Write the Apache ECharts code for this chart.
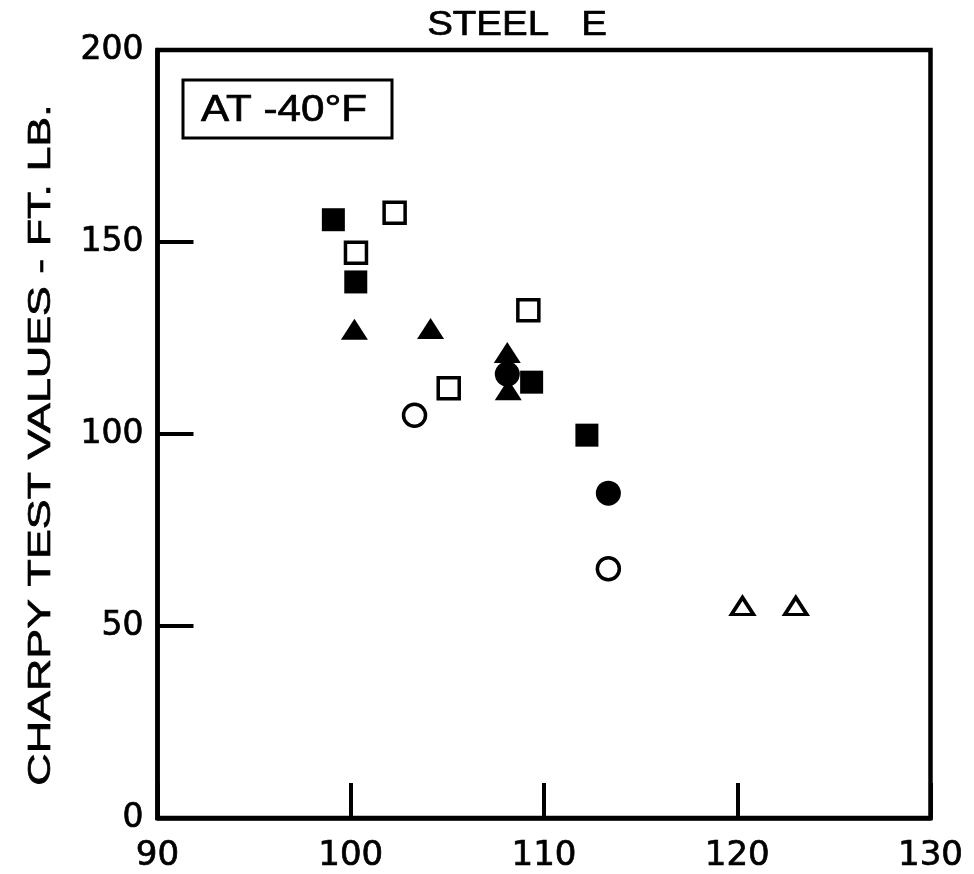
<!DOCTYPE html>
<html>
<head>
<meta charset="utf-8">
<title>Steel E - Charpy test values</title>
<script src="https://cdn.jsdelivr.net/npm/echarts@6/dist/echarts.min.js"></script>
<style>
  html, body { margin: 0; padding: 0; background: #fff; }
  #chart { width: 974px; height: 874px; }
</style>
</head>
<body>
<div id="chart"></div>
<script>
// Charpy impact values for steel E tested at -40°F, grouped by marker style.
// Each point: [x, charpy ft-lb]
const filledSquares   = [[99.1, 155.8], [100.26, 139.6], [109.36, 113.5], [112.22, 99.7]];
const openSquares     = [[102.27, 157.6], [100.27, 147.2], [109.19, 132.2], [105.07, 111.9]];
const filledTriangles = [[100.19, 127.3], [104.13, 127.5], [108.1, 121.2], [108.15, 111.5]];
const openTriangles   = [[120.27, 55.2], [123.03, 55.2]];
const filledCircles   = [[108.1, 115.6], [113.33, 84.6]];
const openCircles     = [[103.3, 104.9], [113.33, 64.9]];

const xTicks = [90, 100, 110, 120, 130];
const yTicks = [0, 50, 100, 150, 200];

const chartTitle = 'STEEL   E';
const yTitle = 'CHARPY TEST VALUES - FT. LB.';
const noteText = 'AT -40°F';

const FONT = '"Liberation Sans", Arial, Helvetica, sans-serif';
const TICK_FONT = '"DejaVu Sans", "Liberation Sans", sans-serif';

const chart = echarts.init(document.getElementById('chart'), null, { renderer: 'canvas' });

function filled(name, symbol, size, data) {
  return {
    name, type: 'scatter', symbol, symbolSize: size, data,
    itemStyle: { color: '#000', opacity: 1 },
    emphasis: { disabled: true }, z: 5
  };
}
function hollow(name, symbol, size, data) {
  return {
    name, type: 'scatter', symbol, symbolSize: size, data,
    itemStyle: { color: '#fff', borderColor: '#000', borderWidth: 3.5, opacity: 1 },
    emphasis: { disabled: true }, z: 4
  };
}

// a thin outline in the text colour gives the lettering a heavier stroke
const inkText = { textBorderColor: '#000', textBorderWidth: 0.7 };

chart.setOption({
  animation: false,
  backgroundColor: '#fff',
  grid: {
    left: 157.5, right: 43.5, top: 50, bottom: 56,
    show: true, borderColor: '#000', borderWidth: 4.5, backgroundColor: 'transparent'
  },
  xAxis: {
    type: 'value',
    min: xTicks[0], max: xTicks[xTicks.length - 1], interval: 10,
    axisLine: { show: true, onZero: false, lineStyle: { color: '#000', width: 4.5 } },
    axisTick: { show: true, inside: true, length: 35, lineStyle: { color: '#000', width: 4 } },
    axisLabel: Object.assign({
      show: true, margin: 21, color: '#000',
      fontFamily: TICK_FONT, fontSize: 34,
      showMinLabel: true, showMaxLabel: true,
      formatter: v => xTicks.includes(v) ? String(v) : ''
    }, inkText),
    splitLine: { show: false }
  },
  yAxis: {
    type: 'value',
    min: yTicks[0], max: yTicks[yTicks.length - 1], interval: 50,
    axisLine: { show: true, onZero: false, lineStyle: { color: '#000', width: 4.5 } },
    axisTick: { show: true, inside: true, length: 36, lineStyle: { color: '#000', width: 4 } },
    axisLabel: Object.assign({
      show: true, margin: 14, color: '#000',
      fontFamily: TICK_FONT, fontSize: 33,
      showMinLabel: true, showMaxLabel: true,
      formatter: v => yTicks.includes(v) ? String(v) : ''
    }, inkText),
    splitLine: { show: false }
  },
  graphic: [
    {
      type: 'text', x: 517, y: 25, scaleX: 1.1,
      style: Object.assign({
        text: chartTitle, fill: '#000', font: '35px ' + FONT,
        textAlign: 'center', textVerticalAlign: 'middle'
      }, { stroke: '#000', lineWidth: 0.7 })
    },
    {
      type: 'text', x: 41, y: 445, rotation: Math.PI / 2, scaleX: 1.4,
      style: {
        text: yTitle, fill: '#000', font: '32px ' + FONT,
        textAlign: 'center', textVerticalAlign: 'middle',
        stroke: '#000', lineWidth: 0.7
      }
    },
    {
      type: 'rect', shape: { x: 183, y: 80, width: 209, height: 58 },
      style: { fill: '#fff', stroke: '#000', lineWidth: 3 }, z: 10
    },
    {
      type: 'text', x: 284, y: 111, scaleX: 1.14, z: 11,
      style: {
        text: noteText, fill: '#000', font: '37px ' + FONT,
        textAlign: 'center', textVerticalAlign: 'middle',
        stroke: '#000', lineWidth: 0.7
      }
    }
  ],
  series: [
    hollow('open square', 'rect', 21, openSquares),
    hollow('open circle', 'circle', 22, openCircles),
    hollow('open triangle', 'triangle', [22, 17], openTriangles),
    filled('filled triangle', 'triangle', [27, 21], filledTriangles),
    filled('filled circle', 'circle', 25, filledCircles),
    filled('filled square', 'rect', 23, filledSquares)
  ]
});
</script>
</body>
</html>
